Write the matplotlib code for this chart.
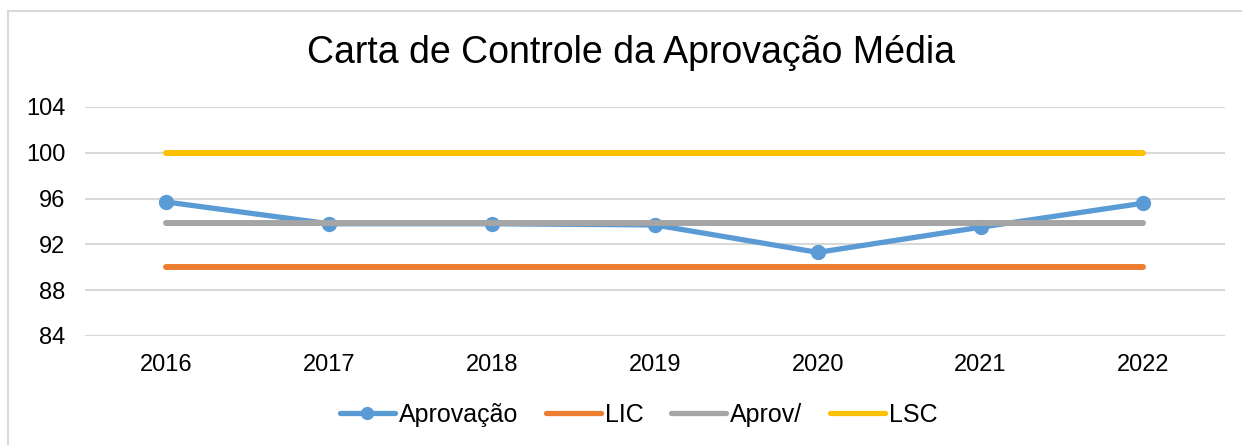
import matplotlib
matplotlib.use("Agg")
import matplotlib.pyplot as plt
from matplotlib.lines import Line2D

plt.rcParams['font.family'] = ['Liberation Sans', 'DejaVu Sans']

anos = ["2016", "2017", "2018", "2019", "2020", "2021", "2022"]
aprovacao = [95.7, 93.8, 93.8, 93.7, 91.3, 93.5, 95.6]
lic = [90.0] * 7
aprov_media = [93.9] * 7
lsc = [100.0] * 7
yticks = [84, 88, 92, 96, 100, 104]

c_azul = "#5B9BD5"
c_laranja = "#ED7D31"
c_cinza = "#A5A5A5"
c_amarelo = "#FFC000"

fig = plt.figure(figsize=(12.42, 4.45), dpi=100)
ax = fig.add_axes([0.0684, 0.245, 0.9178, 0.5146])

x = list(range(len(anos)))
lw_serie = 3.8
lw_ref = 4.3
ax.plot(x, aprovacao, color=c_azul, lw=lw_serie, marker="o", markersize=10,
        solid_capstyle="round", solid_joinstyle="round", label="Aprovação")
ax.plot(x, lic, color=c_laranja, lw=lw_ref, solid_capstyle="round", label="LIC")
ax.plot(x, aprov_media, color=c_cinza, lw=lw_ref, solid_capstyle="round", label="Aprov/")
ax.plot(x, lsc, color=c_amarelo, lw=lw_ref, solid_capstyle="round", label="LSC")

ax.set_xlim(-0.5, len(anos) - 0.5)
ax.set_ylim(84, 104)
ax.set_yticks(yticks)
ax.set_xticks(x)
ax.set_xticklabels(anos)
ax.tick_params(axis="both", length=0, labelsize=17, colors="#000000")
ax.tick_params(axis="y", pad=14)
ax.tick_params(axis="x", pad=13)
ax.yaxis.grid(True, color="#D9D9D9", lw=1.5)
ax.set_axisbelow(True)
for s in ax.spines.values():
    s.set_visible(False)

fig.text(0.508, 0.882, "Carta de Controle da Aprovação Média", ha="center", va="center",
         fontsize=27, color="#000000")

handles = [
    Line2D([], [], color=c_azul, lw=lw_serie, marker="o", markersize=8.5, solid_capstyle="round"),
    Line2D([], [], color=c_laranja, lw=lw_serie, solid_capstyle="round"),
    Line2D([], [], color=c_cinza, lw=lw_serie, solid_capstyle="round"),
    Line2D([], [], color=c_amarelo, lw=lw_serie, solid_capstyle="round"),
]
fig.legend(handles, ["Aprovação", "LIC", "Aprov/", "LSC"], loc="center",
           bbox_to_anchor=(0.514, 0.068), ncol=4, frameon=False, fontsize=18,
           handlelength=2.2, handletextpad=0.16, columnspacing=1.1)

# light outer frame
fig.add_artist(Line2D([8 / 1242, 8 / 1242], [0, 1 - 11 / 445], transform=fig.transFigure,
                      color="#D9D9D9", lw=1.5))
fig.add_artist(Line2D([8 / 1242, 1], [1 - 11 / 445, 1 - 11 / 445], transform=fig.transFigure,
                      color="#D9D9D9", lw=1.5))

fig.savefig("out.png", dpi=100, facecolor="white")
